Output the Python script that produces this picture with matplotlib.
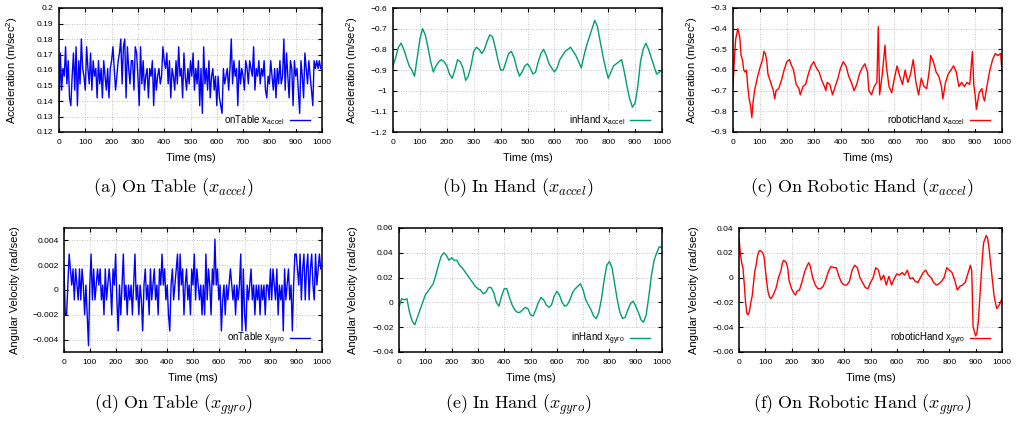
import matplotlib
matplotlib.use("Agg")
import matplotlib.pyplot as plt
import numpy as np
from matplotlib.ticker import FuncFormatter, MultipleLocator

plt.rcParams["font.family"] = ["Liberation Sans", "DejaVu Sans"]

# ---- data ----
# on table, accel x, sampled every 5 ms
time_5ms = np.arange(0, 1000, 5)
table_accel = [
    0.132, 0.171, 0.147, 0.161, 0.156, 0.175, 0.151, 0.166, 0.142, 0.137,
    0.156, 0.171, 0.147, 0.175, 0.137, 0.166, 0.151, 0.180, 0.161, 0.156,
    0.147, 0.175, 0.161, 0.151, 0.171, 0.147, 0.166, 0.156, 0.161, 0.142,
    0.166, 0.151, 0.161, 0.142, 0.166, 0.156, 0.147, 0.161, 0.142, 0.161,
    0.166, 0.175, 0.161, 0.147, 0.156, 0.166, 0.171, 0.180, 0.151, 0.175,
    0.180, 0.142, 0.175, 0.161, 0.151, 0.166, 0.166, 0.147, 0.175, 0.171,
    0.156, 0.137, 0.175, 0.151, 0.166, 0.147, 0.156, 0.161, 0.142, 0.161,
    0.156, 0.166, 0.137, 0.161, 0.147, 0.156, 0.161, 0.151, 0.156, 0.175,
    0.166, 0.161, 0.171, 0.151, 0.166, 0.142, 0.161, 0.156, 0.147, 0.166,
    0.151, 0.175, 0.156, 0.161, 0.142, 0.171, 0.156, 0.147, 0.161, 0.151,
    0.166, 0.156, 0.171, 0.147, 0.161, 0.151, 0.166, 0.137, 0.161, 0.132,
    0.175, 0.151, 0.161, 0.147, 0.166, 0.142, 0.156, 0.161, 0.147, 0.156,
    0.137, 0.156, 0.142, 0.137, 0.132, 0.161, 0.151, 0.156, 0.161, 0.147,
    0.161, 0.180, 0.151, 0.166, 0.156, 0.161, 0.137, 0.166, 0.151, 0.161,
    0.156, 0.147, 0.166, 0.161, 0.151, 0.166, 0.161, 0.156, 0.175, 0.147,
    0.161, 0.156, 0.166, 0.151, 0.161, 0.156, 0.166, 0.147, 0.142, 0.156,
    0.151, 0.166, 0.156, 0.147, 0.161, 0.142, 0.161, 0.151, 0.166, 0.151,
    0.156, 0.180, 0.147, 0.171, 0.156, 0.142, 0.166, 0.161, 0.137, 0.166,
    0.156, 0.161, 0.147, 0.132, 0.166, 0.156, 0.142, 0.171, 0.161, 0.151,
    0.166, 0.156, 0.147, 0.137, 0.166, 0.161, 0.166, 0.161, 0.166, 0.161,
]

# on table, gyro x, sampled every 5 ms
table_gyro = [
    0.0017, -0.0020, -0.0020, 0.0004, 0.0029, 0.0017, 0.0004, 0.0017, -0.0008, 0.0017,
    0.0004, -0.0008, 0.0017, -0.0008, 0.0017, 0.0004, -0.0020, 0.0004, -0.0020, -0.0045,
    0.0004, 0.0029, -0.0008, 0.0017, -0.0008, 0.0004, 0.0017, 0.0004, 0.0017, -0.0008,
    0.0004, -0.0020, 0.0017, -0.0008, 0.0004, 0.0017, 0.0004, -0.0020, 0.0017, 0.0004,
    0.0029, -0.0008, -0.0033, 0.0004, -0.0020, 0.0004, 0.0029, -0.0008, 0.0004, -0.0020,
    0.0004, -0.0008, 0.0004, -0.0020, 0.0004, 0.0029, -0.0008, 0.0004, -0.0020, 0.0004,
    -0.0008, -0.0033, 0.0004, 0.0017, -0.0008, 0.0004, -0.0020, 0.0017, -0.0008, 0.0004,
    0.0017, -0.0008, 0.0004, -0.0020, 0.0017, 0.0004, 0.0029, 0.0004, 0.0017, -0.0008,
    0.0004, -0.0020, -0.0033, 0.0004, 0.0017, -0.0008, 0.0004, 0.0017, 0.0029, -0.0008,
    0.0029, 0.0004, 0.0017, -0.0020, 0.0004, 0.0017, -0.0008, 0.0004, -0.0020, 0.0017,
    0.0004, 0.0029, -0.0008, 0.0017, 0.0004, -0.0008, 0.0004, -0.0020, 0.0004, -0.0020,
    0.0029, -0.0008, 0.0017, 0.0004, -0.0020, 0.0017, 0.0004, 0.0041, 0.0004, 0.0017,
    -0.0008, 0.0004, -0.0033, -0.0008, 0.0004, -0.0020, 0.0004, -0.0008, 0.0004, 0.0017,
    0.0004, -0.0008, 0.0004, -0.0020, 0.0004, -0.0008, 0.0004, 0.0029, -0.0033, 0.0017,
    -0.0020, -0.0033, 0.0004, -0.0008, 0.0004, 0.0017, -0.0008, 0.0004, -0.0020, 0.0004,
    -0.0008, 0.0004, -0.0020, 0.0004, -0.0008, 0.0004, -0.0020, 0.0004, 0.0004, -0.0008,
    0.0017, -0.0008, 0.0017, 0.0004, -0.0008, 0.0017, -0.0020, 0.0004, -0.0008, 0.0004,
    -0.0033, 0.0017, -0.0008, 0.0004, 0.0017, -0.0008, 0.0004, -0.0033, 0.0004, 0.0029,
    0.0029, 0.0017, 0.0004, 0.0029, -0.0008, 0.0017, 0.0029, -0.0008, 0.0017, 0.0029,
    -0.0008, 0.0017, 0.0029, 0.0004, -0.0008, 0.0029, 0.0004, 0.0017, 0.0029, 0.0017,
]

# in hand, every 10 ms
time_10ms = np.arange(0, 1001, 10)
hand_accel = [
    -0.88, -0.84, -0.79, -0.77, -0.80, -0.84, -0.88, -0.90, -0.93, -0.84,
    -0.75, -0.70, -0.73, -0.79, -0.86, -0.91, -0.88, -0.86, -0.85, -0.86,
    -0.88, -0.92, -0.94, -0.90, -0.85, -0.86, -0.89, -0.95, -0.93, -0.88,
    -0.81, -0.79, -0.80, -0.82, -0.80, -0.76, -0.73, -0.74, -0.79, -0.85,
    -0.90, -0.90, -0.86, -0.82, -0.81, -0.84, -0.89, -0.93, -0.91, -0.88,
    -0.87, -0.89, -0.92, -0.91, -0.86, -0.82, -0.80, -0.83, -0.87, -0.89,
    -0.91, -0.89, -0.85, -0.83, -0.81, -0.80, -0.79, -0.81, -0.83, -0.86,
    -0.89, -0.83, -0.78, -0.74, -0.70, -0.66, -0.69, -0.76, -0.83, -0.89,
    -0.94, -0.91, -0.88, -0.87, -0.86, -0.85, -0.91, -0.98, -1.04, -1.08,
    -1.06, -0.98, -0.86, -0.80, -0.77, -0.80, -0.84, -0.88, -0.92, -0.91,
    -0.90,
]
hand_gyro = [
    -0.004, 0.003, 0.002, 0.003, -0.008, -0.015, -0.018, -0.012, -0.006, 0.000,
    0.006, 0.009, 0.012, 0.015, 0.022, 0.030, 0.037, 0.040, 0.038, 0.034,
    0.036, 0.034, 0.034, 0.030, 0.028, 0.025, 0.022, 0.019, 0.016, 0.013,
    0.011, 0.010, 0.007, 0.008, 0.012, 0.012, 0.008, 0.000, -0.003, 0.005,
    0.011, 0.011, 0.004, -0.002, -0.006, -0.008, -0.008, -0.006, -0.004, -0.005,
    -0.010, -0.011, -0.006, 0.000, 0.004, 0.002, -0.002, -0.004, -0.002, 0.005,
    0.009, 0.006, 0.000, -0.003, -0.002, 0.002, 0.008, 0.011, 0.013, 0.015,
    0.010, 0.002, -0.002, -0.006, -0.011, -0.013, -0.008, 0.003, 0.018, 0.030,
    0.033, 0.028, 0.015, 0.002, -0.008, -0.013, -0.012, -0.006, -0.001, 0.001,
    -0.003, -0.008, -0.014, -0.016, -0.010, 0.005, 0.022, 0.034, 0.040, 0.045,
    0.044,
]

# robotic hand, irregular sample points
robot_accel_t = [
    0, 5, 10, 18, 25, 30, 35, 40, 45, 50, 55, 60, 65, 70, 75, 80, 90, 100,
    110, 115, 120, 125, 130, 140, 150, 155, 160, 170, 180, 190, 200, 210,
    215, 225, 235, 245, 250, 260, 270, 280, 290, 300, 310, 320, 330, 340,
    345, 350, 360, 370, 380, 390, 400, 410, 420, 430, 440, 450, 460, 470,
    480, 490, 500, 505, 515, 525, 535, 540, 545, 555, 565, 570, 580, 590,
    600, 610, 620, 630, 640, 650, 660, 670, 680, 690, 700, 710, 720, 730,
    735, 745, 755, 765, 775, 780, 790, 800, 810, 820, 830, 840, 850, 860,
    870, 880, 890, 895, 900, 905, 915, 925, 930, 935, 945, 955, 965, 975,
    985, 995, 1000,
]
robot_accel = [
    -0.68, -0.55, -0.45, -0.40, -0.44, -0.53, -0.55, -0.60, -0.61, -0.60,
    -0.68, -0.74, -0.77, -0.83, -0.75, -0.70, -0.64, -0.59, -0.55, -0.51,
    -0.52, -0.55, -0.62, -0.66, -0.70, -0.74, -0.70, -0.69, -0.65, -0.60,
    -0.56, -0.55, -0.57, -0.60, -0.67, -0.69, -0.72, -0.68, -0.67, -0.62,
    -0.58, -0.56, -0.59, -0.61, -0.65, -0.68, -0.70, -0.66, -0.67, -0.72,
    -0.68, -0.64, -0.59, -0.56, -0.58, -0.63, -0.66, -0.70, -0.67, -0.62,
    -0.59, -0.57, -0.61, -0.70, -0.72, -0.68, -0.66, -0.39, -0.72, -0.62,
    -0.48, -0.58, -0.68, -0.71, -0.64, -0.58, -0.63, -0.67, -0.60, -0.66,
    -0.62, -0.55, -0.66, -0.72, -0.64, -0.68, -0.69, -0.60, -0.53, -0.56,
    -0.61, -0.63, -0.68, -0.74, -0.66, -0.62, -0.60, -0.58, -0.61, -0.68,
    -0.66, -0.68, -0.66, -0.67, -0.51, -0.67, -0.72, -0.79, -0.71, -0.69,
    -0.73, -0.75, -0.67, -0.60, -0.55, -0.52, -0.53, -0.52, -0.61,
]
robot_gyro_t = [
    0, 5, 10, 15, 20, 25, 30, 35, 40, 45, 50, 55, 60, 65, 70, 75, 80, 90,
    95, 100, 105, 110, 115, 120, 125, 130, 140, 145, 150, 160, 165, 170,
    180, 185, 190, 200, 210, 215, 220, 230, 240, 250, 260, 265, 270, 280,
    290, 300, 310, 320, 330, 340, 350, 360, 370, 380, 390, 400, 410, 420,
    430, 440, 450, 460, 470, 480, 490, 500, 510, 520, 530, 540, 550, 560,
    570, 580, 590, 600, 610, 620, 630, 640, 650, 660, 670, 680, 690, 700,
    710, 720, 730, 740, 750, 760, 770, 780, 790, 800, 810, 820, 830, 840,
    850, 860, 870, 880, 885, 890, 900, 905, 910, 915, 920, 925, 930, 940,
    945, 950, 960, 970, 980, 990, 1000,
]
robot_gyro = [
    0.032, 0.020, 0.012, 0.008, -0.005, -0.020, -0.029, -0.030, -0.027, -0.020,
    -0.015, -0.005, 0.005, 0.010, 0.017, 0.021, 0.022, 0.020, 0.017, 0.007,
    -0.003, -0.011, -0.015, -0.017, -0.016, -0.014, -0.009, -0.005, 0.000, 0.006,
    0.012, 0.014, 0.012, 0.008, -0.002, -0.009, -0.013, -0.014, -0.011, -0.010,
    -0.003, 0.005, 0.010, 0.012, 0.010, 0.000, -0.006, -0.009, -0.009, -0.007,
    -0.002, 0.005, 0.009, 0.008, 0.008, 0.001, -0.004, -0.006, -0.006, -0.003,
    0.006, 0.010, 0.008, 0.000, -0.004, -0.008, -0.009, -0.004, 0.000, 0.008,
    0.006, -0.002, 0.002, -0.006, 0.001, -0.006, -0.001, 0.003, 0.002, 0.004,
    0.002, 0.006, -0.001, 0.000, -0.003, -0.004, 0.000, 0.004, 0.006, 0.002,
    0.000, -0.004, -0.006, -0.005, -0.003, 0.000, 0.008, 0.006, 0.004, -0.002,
    -0.010, -0.007, -0.006, -0.004, 0.003, 0.010, 0.005, -0.040, -0.047, -0.044,
    -0.035, -0.018, -0.002, 0.015, 0.028, 0.034, 0.032, 0.025, 0.005, -0.015,
    -0.025, -0.022, -0.017,
]

W, H = 1017, 421
fig = plt.figure(figsize=(W / 100, H / 100), dpi=100)


def add_axes_px(left, right, top, bottom):
    ax = fig.add_axes([left / W, 1 - bottom / H, (right - left) / W, (bottom - top) / H])
    ax.box_px = (left, right, top, bottom)
    return ax


def fmt(v, _pos):
    s = "{:g}".format(round(v, 6))
    return s.replace("-", "\u2212")


def style(ax, ylim, ystep, ylabel, ylabel_px, color, label, x, y):
    left, right, top, bottom = ax.box_px
    wpx, hpx = right - left, bottom - top
    ax.plot(x, y, color=color, lw=1.0, label=label, zorder=3)
    ax.set_xlim(0, 1000)
    ax.set_ylim(*ylim)
    ax.xaxis.set_major_locator(MultipleLocator(100))
    ax.yaxis.set_major_locator(MultipleLocator(ystep))
    ax.yaxis.set_major_formatter(FuncFormatter(fmt))
    ax.grid(True, color="#b0b0b0", lw=0.6, ls=(0, (1, 2)))
    ax.tick_params(direction="in", length=3, width=0.8, labelsize=6,
                   top=True, right=True)
    ax.tick_params(axis="x", pad=5)
    ax.tick_params(axis="y", pad=4)
    for sp in ax.spines.values():
        sp.set_linewidth(1.1)
        sp.set_zorder(4)
    ax.set_xlabel("Time (ms)", fontsize=8, labelpad=5)
    ax.set_ylabel(ylabel, fontsize=8)
    # label anchor is the right edge of the rotated text, centre is ~5 px left
    ax.yaxis.set_label_coords((ylabel_px + 5 - left) / wpx, 0.5)
    leg = ax.legend(loc="lower right", bbox_to_anchor=(1 - 10 / wpx, 3 / hpx),
                    fontsize=7, frameon=True, fancybox=False,
                    framealpha=1, edgecolor="none", handlelength=2.1,
                    markerfirst=False, borderaxespad=0, borderpad=0.2,
                    handletextpad=0.5)
    leg.get_frame().set_linewidth(0)
    leg.set_zorder(2.5)


acc_label = "Acceleration (m/sec$^\\mathregular{2}$)"
gyr_label = "Angular Velocity (rad/sec)"

blue, green, red = "#0000ff", "#009e73", "#ff0000"

ax = add_axes_px(59, 322, 8, 132)
style(ax, (0.12, 0.2), 0.01, acc_label, 15, blue, "onTable x$_\\mathregular{accel}$",
      time_5ms, table_accel)
ax = add_axes_px(393, 662, 8, 132)
style(ax, (-1.2, -0.6), 0.1, acc_label, 355, green, "inHand x$_\\mathregular{accel}$",
      time_10ms, hand_accel)
ax = add_axes_px(733, 1002, 8, 132)
style(ax, (-0.9, -0.3), 0.1, acc_label, 695, red, "roboticHand x$_\\mathregular{accel}$",
      robot_accel_t, robot_accel)
ax = add_axes_px(64, 322, 228, 352)
style(ax, (-0.005, 0.005), 0.002, gyr_label, 15, blue, "onTable x$_\\mathregular{gyro}$",
      time_5ms, table_gyro)
ax = add_axes_px(399, 662, 228, 352)
style(ax, (-0.04, 0.06), 0.02, gyr_label, 353, green, "inHand x$_\\mathregular{gyro}$",
      time_10ms, hand_gyro)
ax = add_axes_px(739, 1002, 228, 352)
style(ax, (-0.06, 0.04), 0.02, gyr_label, 694, red, "roboticHand x$_\\mathregular{gyro}$",
      robot_gyro_t, robot_gyro)

captions = [
    (173, 188, r"$\mathrm{(a)\ On\ Table\ (}x_{accel}\mathrm{)}$"),
    (518, 188, r"$\mathrm{(b)\ In\ Hand\ (}x_{accel}\mathrm{)}$"),
    (862, 188, r"$\mathrm{(c)\ On\ Robotic\ Hand\ (}x_{accel}\mathrm{)}$"),
    (173, 405, r"$\mathrm{(d)\ On\ Table\ (}x_{gyro}\mathrm{)}$"),
    (518, 405, r"$\mathrm{(e)\ In\ Hand\ (}x_{gyro}\mathrm{)}$"),
    (862, 405, r"$\mathrm{(f)\ On\ Robotic\ Hand\ (}x_{gyro}\mathrm{)}$"),
]
for cx, cy, txt in captions:
    fig.text(cx / W, 1 - cy / H, txt, ha="center", va="center", fontsize=13,
             math_fontfamily="cm")

fig.savefig("out.png", dpi=100)
